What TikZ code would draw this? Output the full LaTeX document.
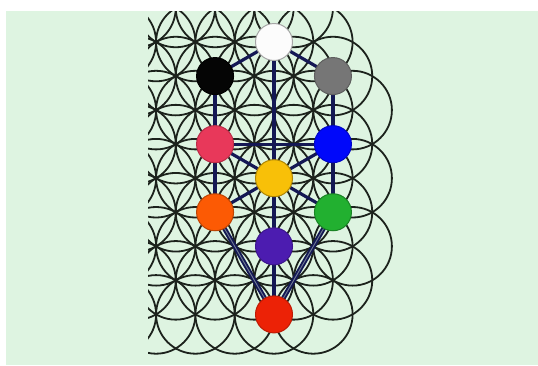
\documentclass[tikz,border=0pt]{standalone}
\definecolor{bgc}{RGB}{222,244,225}
\definecolor{petalc}{RGB}{28,34,28}
\definecolor{navyc}{RGB}{20,24,84}
\definecolor{cwhite}{RGB}{252,252,252}
\definecolor{cblack}{RGB}{5,5,5}
\definecolor{cgray}{RGB}{118,118,118}
\definecolor{cpink}{RGB}{232,56,90}
\definecolor{cblue}{RGB}{0,8,250}
\definecolor{cyellow}{RGB}{248,192,8}
\definecolor{corange}{RGB}{252,90,4}
\definecolor{cgreen}{RGB}{34,176,48}
\definecolor{cpurple}{RGB}{76,28,176}
\definecolor{cred}{RGB}{236,34,6}
\pgfdeclarelayer{background}
\pgfdeclarelayer{edges}
\pgfsetlayers{background,edges,main}
\begin{document}
\begin{tikzpicture}[x=1pt,y=-1pt,
  sefira/.style={circle,minimum size=37pt,inner sep=0pt,line width=1pt},
  petal/.style={draw=petalc,line width=1.8pt},
  conn/.style={draw=navyc,line width=3.2pt},
  dblconn/.style={draw=navyc,line width=1.9pt,double=navyc!55!bgc,double distance=0.9pt}]
\useasboundingbox (0,0) rectangle (538,365);
% nodes
\node[sefira,fill=cwhite,draw=gray!70] (white) at (274,42) {};
\node[sefira,fill=cblack,draw=black] (black) at (215.05,76.05) {};
\node[sefira,fill=cgray,draw=cgray!80!black] (gray) at (332.95,76.05) {};
\node[sefira,fill=cpink,draw=cpink!80!black] (pink) at (215.05,144.15) {};
\node[sefira,fill=cblue,draw=cblue!80!black] (blue) at (332.95,144.15) {};
\node[sefira,fill=cyellow,draw=cyellow!70!black] (yellow) at (274,178.2) {};
\node[sefira,fill=corange,draw=corange!75!black] (orange) at (215.05,212.25) {};
\node[sefira,fill=cgreen,draw=cgreen!75!black] (green) at (332.95,212.25) {};
\node[sefira,fill=cpurple,draw=cpurple!80!black] (purple) at (274,246.3) {};
\node[sefira,fill=cred,draw=cred!80!black] (red) at (274,314.4) {};
% background and flower pattern
\begin{pgfonlayer}{background}
\fill[white] (0,0) rectangle (538,365);
\fill[bgc] (6,11) rectangle (538,365);
\begin{scope}
\clip (148,11) rectangle (538,365);
\foreach \k/\xo/\jmin/\jmax in {0/254.35/-3/1, 1/274/-4/1, 2/254.35/-3/2, 3/274/-4/2, 4/254.35/-3/2, 5/274/-4/2, 6/254.35/-3/2, 7/274/-4/2, 8/254.35/-3/2, 9/274/-4/1}{
  \foreach \j in {\jmin,...,\jmax}{
    \pgfmathsetmacro{\cx}{\xo+39.3*\j}
    \pgfmathsetmacro{\cy}{42+(\k-1)*34.05}
    \draw[petal] (\cx,\cy) circle[radius=39.3pt];
  }
}
\end{scope}
\end{pgfonlayer}
% connectors
\begin{pgfonlayer}{edges}
\draw[conn] (white.center) -- (black.center);
\draw[conn] (white.center) -- (gray.center);
\draw[conn] (white.center) -- (yellow.center);
\draw[conn] (black.center) -- (pink.center);
\draw[conn] (gray.center) -- (blue.center);
\draw[conn] (pink.center) -- (blue.center);
\draw[conn] (pink.center) -- (yellow.center);
\draw[conn] (blue.center) -- (yellow.center);
\draw[conn] (pink.center) -- (orange.center);
\draw[conn] (blue.center) -- (green.center);
\draw[conn] (orange.center) -- (yellow.center);
\draw[conn] (green.center) -- (yellow.center);
\draw[conn] (yellow.center) -- (purple.center);
\draw[conn] (purple.center) -- (red.center);
\draw[dblconn] (orange.center) -- (red.center);
\draw[dblconn] (green.center) -- (red.center);
\end{pgfonlayer}
\end{tikzpicture}
\end{document}
